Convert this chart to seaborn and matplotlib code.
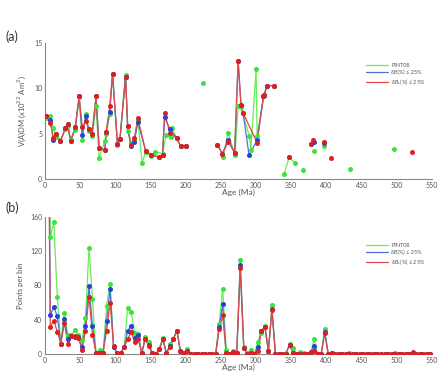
import numpy as np
import pandas as pd
import matplotlib
matplotlib.use("Agg")
import matplotlib.pyplot as plt
from matplotlib.lines import Line2D
from matplotlib.ticker import MultipleLocator
import seaborn as sns

sns.set_style("white")
plt.rcParams['font.family'] = ['Lato', 'DejaVu Sans']

# ---------------- Panel (a): V(A)DM vs age (None = break in line) ----------------
pint_age = [1.0, 7.5, 12, 16, 22, 29, 32, 36.5, 43, 48.5, 53, 58, 62, 67, 72.5, 77, 85, 87, 92, 96,
            103, 106.5, 114.5, 117.5, 122, 127, 132, 138, 143, 150, 157, 167, 172, 179, 181, 187, 193, 200,
            None, 224,
            None, 253, 260, 270, 274.5, 278.5, 290.5, 292.5, 300, 301.5, 311, 315.5, 325.5,
            None, 340, 347, 355,
            None, 366, None, 383, None, 396.5, None, 433, None, 496]
pint_val = [6.7, 6.9, 5.6, 4.6, 4.2, 5.5, 5.8, 4.3, 5.4, 9.0, 4.3, 7.2, 5.3, 4.7, 8.0, 2.3, 4.2, 5.0, 7.2, 11.6,
            3.8, 4.4, 11.5, 5.3, 4.0, 4.3, 6.5, 1.8, 3.0, 2.5, 3.0, 2.8, 4.8, 4.6, 5.6, 4.5, 3.6, 3.6,
            None, 10.6,
            None, 2.4, 5.1, 2.7, 8.1, 7.9, 4.7, 3.2, 12.1, 4.7, 9.1, 10.3, 10.3,
            None, 0.6, 2.4, 1.8,
            None, 0.95, None, 3.1, None, 3.6, None, 1.05, None, 3.3]

db_age = [1.0, 7.5, 12, 15, 22, 29, 32, 36.5, 43, 48.5, 53, 58, 62, 67, 72.5, 77, 85, 87, 92, 96,
          103, 106.5, 114.5, 117.5, 122, 127, 132, 143, 150, 162, 167, 170, 177.5, 187, 193, 200,
          None, 245, 252, 260.5, 269.5, 274.5, 278.5, 281.5, 290, 301.4, 310.5, 311.5, 315.5, 325.5,
          None, 378.5, 382, None, 396.5]
db_val = [7.0, 6.5, 4.3, 5.0, 4.2, 5.6, 6.1, 4.2, 5.7, 9.1, 4.8, 7.0, 5.5, 5.0, 9.1, 3.4, 3.2, 5.2, 7.4, 11.6,
          3.9, 4.4, 11.3, 5.8, 3.6, 4.1, 6.3, 3.1, 2.7, 2.4, 2.6, 6.8, 5.5, 4.5, 3.6, 3.6,
          None, 3.8, 2.8, 4.3, 2.9, 13.0, 8.2, 7.3, 2.6, 4.3, 9.1, 9.3, 10.3, 10.3,
          None, 3.9, 4.1, None, 4.0]

dbc_age = [1.0, 7.5, 12, 15, 22, 29, 32, 36.5, 43, 48.5, 53, 58, 62, 67, 72.5, 77, 85, 87, 92, 96,
           103, 106.5, 114.5, 117.5, 122, 127, 132, 143, 150, 162, 167, 170, 177.5, 187, 193, 200,
           None, 245, 252, 260.5, 269.5, 274.5, 278.5, 281.5, 301.4, 310.5, 311.5, 315.5, 325.5,
           None, 347, None, 378.5, 381.5, None, 396.5, None, 407, None, 521]
dbc_val = [7.0, 6.2, 4.5, 5.0, 4.2, 5.6, 6.1, 4.2, 5.7, 9.1, 5.7, 6.4, 5.5, 5.0, 9.1, 3.4, 3.2, 5.2, 8.0, 11.6,
           3.9, 4.4, 11.3, 5.8, 3.8, 4.5, 6.7, 3.1, 2.7, 2.4, 2.6, 7.3, 5.1, 4.5, 3.6, 3.6,
           None, 3.8, 2.8, 4.1, 2.9, 13.0, 8.2, 7.3, 4.0, 9.1, 9.3, 10.3, 10.3,
           None, 2.4, None, 3.9, 4.3, None, 4.1, None, 2.3, None, 3.0]

# ---------------- Panel (b): points per 5-Myr bin ----------------
bin_centers = np.arange(2.5, 550, 5.0)
pint_counts = [900, 137, 154, 66, 12, 48, 22, 22, 28, 22, 16, 42, 124, 64, 1, 5, 1, 56, 82, 8,
               1, 1, 8, 54, 49, 25, 23, 1, 20, 14, 1, 0, 6, 19, 1, 12, 18, 27, 3, 1,
               6, 0, 0, 0, 0, 0, 0, 0, 0, 35, 76, 5, 0, 3, 1, 110, 8, 1, 5, 0,
               14, 25, 33, 4, 57, 0, 0, 0, 1, 12, 7, 0, 2, 1, 0, 2, 17, 0, 0, 29,
               0, 1, 0, 0, 0, 0, 1, 0, 0, 0, 0, 0, 0, 0, 0, 0, 0, 0, 0, 1,
               0, 0, 0, 0, 0, 0, 0, 0, 0, 0]
db_counts = [600, 45, 55, 44, 12, 41, 18, 21, 20, 20, 8, 33, 79, 33, 1, 1, 1, 38, 76, 8,
             1, 1, 8, 27, 33, 19, 22, 1, 18, 10, 1, 0, 6, 17, 1, 9, 18, 27, 3, 1,
             4, 0, 0, 0, 0, 0, 0, 0, 0, 32, 58, 1, 0, 2, 1, 104, 7, 0, 1, 0,
             8, 27, 31, 4, 52, 0, 0, 0, 0, 11, 1, 0, 0, 0, 0, 2, 9, 0, 0, 26,
             0, 1, 0, 0, 0, 0, 0, 0, 0, 0, 0, 0, 0, 0, 0, 0, 0, 0, 0, 0,
             0, 0, 0, 0, 0, 0, 0, 0, 0, 0]
dbc_counts = [500, 32, 39, 26, 12, 36, 12, 21, 21, 19, 5, 27, 67, 22, 1, 1, 1, 27, 60, 9,
              1, 1, 8, 17, 26, 14, 17, 1, 18, 9, 1, 0, 6, 17, 1, 8, 18, 27, 3, 1,
              4, 0, 0, 0, 0, 0, 0, 0, 0, 29, 45, 1, 0, 2, 1, 100, 7, 0, 1, 0,
              4, 27, 32, 4, 51, 0, 0, 0, 0, 11, 1, 0, 0, 0, 0, 2, 4, 0, 0, 24,
              0, 1, 0, 0, 0, 0, 0, 0, 0, 0, 0, 0, 0, 0, 0, 0, 0, 0, 0, 0,
              0, 0, 0, 0, 2, 0, 0, 0, 0, 0]

labels = ["PINT08", "δB(%) ≤ 25%", "δB$_\\mathregular{c}$(%) ≤ 25%"]
line_colors = ["#66ee55", "#4a72d8", "#dd4a4a"]
mark_colors = ["#3fe03f", "#2244dd", "#dd1f1f"]


def to_frame(ages, vals):
    rows = []
    seg = 0
    for a, v in zip(ages, vals):
        if a is None:
            seg += 1
            continue
        rows.append((a, v, seg))
    return pd.DataFrame(rows, columns=["age", "val", "seg"])


W, H = 445, 373
fig = plt.figure(figsize=(W / 100, H / 100), dpi=100)
ax1 = fig.add_axes([45 / W, 1 - 179 / H, 387 / W, 136 / H])
ax2 = fig.add_axes([45 / W, 1 - 354 / H, 387 / W, 137 / H])

grey = "#555555"

top_series = [(pint_age, pint_val), (db_age, db_val), (dbc_age, dbc_val)]
for (ages, vals), lc, mc in zip(top_series, line_colors, mark_colors):
    df = to_frame(ages, vals)
    sns.lineplot(data=df, x="age", y="val", units="seg", estimator=None, sort=False,
                 color=lc, lw=0.9, ax=ax1, legend=False)
    sns.scatterplot(data=df, x="age", y="val", color=mc, s=13, linewidth=0, ax=ax1,
                    legend=False, zorder=3)

bot_series = [pint_counts, db_counts, dbc_counts]
for counts, lc, mc in zip(bot_series, line_colors, mark_colors):
    df = pd.DataFrame({"age": bin_centers, "n": counts})
    sns.lineplot(data=df, x="age", y="n", estimator=None, sort=False,
                 color=lc, lw=0.9, ax=ax2, legend=False)
    sns.scatterplot(data=df, x="age", y="n", color=mc, s=13, linewidth=0, ax=ax2,
                    legend=False, zorder=3)

for ax, ylim, ymaj, ymin, anchor_y in [(ax1, (0, 15), 5, 1, 0.85), (ax2, (0, 160), 40, 10, 0.81)]:
    ax.set_xlim(0, 550)
    ax.set_ylim(*ylim)
    ax.xaxis.set_major_locator(MultipleLocator(50))
    ax.xaxis.set_minor_locator(MultipleLocator(10))
    ax.yaxis.set_major_locator(MultipleLocator(ymaj))
    ax.yaxis.set_minor_locator(MultipleLocator(ymin))
    for side in ["top", "right"]:
        ax.spines[side].set_visible(False)
    for side in ["left", "bottom"]:
        ax.spines[side].set_color("#888888")
        ax.spines[side].set_linewidth(0.8)
    ax.tick_params(which="major", direction="in", length=4, width=0.7, color="#888888",
                   labelsize=5, labelcolor=grey, pad=2)
    ax.tick_params(which="minor", direction="in", length=2, width=0.6, color="#888888")
    ax.set_xlabel("Age (Ma)", fontsize=6, color=grey, labelpad=0)
    handles = [Line2D([], [], color=c, lw=0.9) for c in line_colors]
    ax.legend(handles, labels, loc="upper left", bbox_to_anchor=(0.83, anchor_y), frameon=False,
              fontsize=4, labelcolor=grey, handlelength=4.0, handletextpad=0.5,
              labelspacing=0.3, borderaxespad=0, borderpad=0)

ax1.set_ylabel("V(A)DM (x10$^{22}$ Am$^2$)", fontsize=5.5, color=grey, labelpad=4)
ax2.set_ylabel("Points per bin", fontsize=5.5, color=grey, labelpad=4)

fig.text(5 / W, 1 - 37 / H, "(a)", fontsize=9, color="#333333", va="center")
fig.text(5 / W, 1 - 208 / H, "(b)", fontsize=9, color="#333333", va="center")

fig.savefig("out.png", dpi=100, facecolor="white")
